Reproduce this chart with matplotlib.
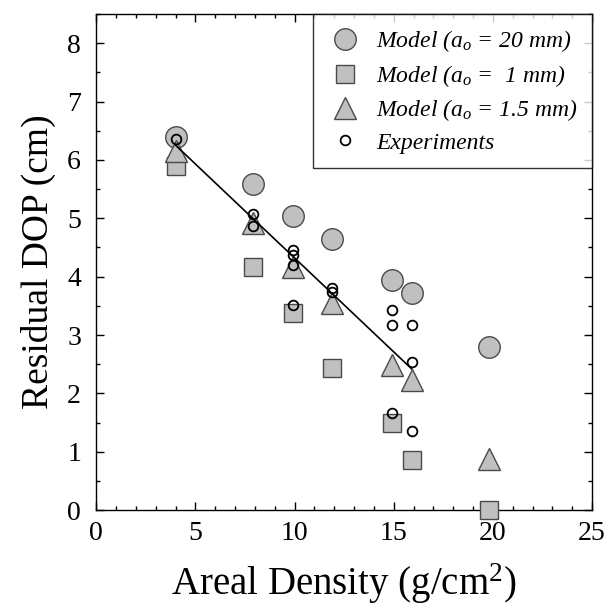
import numpy as np
import matplotlib
matplotlib.use("Agg")
import matplotlib.pyplot as plt
from matplotlib.ticker import MultipleLocator

plt.rcParams["font.family"] = ["Liberation Serif", "DejaVu Serif"]
plt.rcParams["mathtext.fontset"] = "custom"
plt.rcParams["mathtext.rm"] = "Liberation Serif"
plt.rcParams["mathtext.it"] = "Liberation Serif:italic"

# model curves (areal density vs residual DOP)
x_model = [4.0, 7.9, 9.9, 11.9, 14.9, 15.9, 19.8]
dop_20mm = [6.40, 5.59, 5.04, 4.64, 3.95, 3.72, 2.80]
dop_1mm = [5.89, 4.17, 3.38, 2.43, 1.49, 0.85, 0.0]
dop_15mm = [6.15, 4.92, 4.17, 3.55, 2.49, 2.23, 0.87]

# experiments
x_exp = [4.0, 7.9, 7.9, 9.9, 9.9, 9.9, 9.9, 11.9, 11.9,
         14.9, 14.9, 14.9, 15.9, 15.9, 15.9]
dop_exp = [6.35, 5.08, 4.87, 4.45, 4.37, 4.20, 3.52, 3.81, 3.74,
           3.43, 3.18, 1.66, 3.18, 2.54, 1.35]

# linear fit through experiments
x_fit = [4.0, 15.9]
y_fit = [6.25, 2.42]

fig = plt.figure(figsize=(6.06, 6.08), dpi=100)
ax = fig.add_axes([0.159, 0.161, 0.818, 0.816])

gray = "#c0c0c0"
edge = "#4a4a4a"
ax.plot(x_model, dop_20mm, "o", ms=15.5, mfc=gray, mec=edge, mew=1.0,
        label=r"Model ($a_o$ = 20 mm)", clip_on=False, zorder=3)
ax.plot(x_model, dop_1mm, "s", ms=13.5, mfc=gray, mec=edge, mew=1.0,
        label=r"Model ($a_o$ =  1 mm)", clip_on=False, zorder=3)
ax.plot(x_model, dop_15mm, "^", ms=15.5, mfc=gray, mec=edge, mew=1.0,
        label=r"Model ($a_o$ = 1.5 mm)", clip_on=False, zorder=3)
ax.plot(x_exp, dop_exp, "o", ms=7, mfc="none", mec="black", mew=1.3,
        label="Experiments", zorder=4)
ax.plot(x_fit, y_fit, "-", color="black", lw=1.2, zorder=5)

ax.set_xlim(0, 25)
ax.set_ylim(0, 8.5)
ax.xaxis.set_major_locator(MultipleLocator(5))
ax.xaxis.set_minor_locator(MultipleLocator(1))
ax.yaxis.set_major_locator(MultipleLocator(1))
ax.yaxis.set_minor_locator(MultipleLocator(0.5))
ax.tick_params(which="both", direction="in", top=True, right=True,
               labelsize=20, width=1.0)
ax.tick_params(which="major", length=6, pad=8)
ax.tick_params(axis="y", which="major", pad=11)
ax.tick_params(which="minor", length=3)
for s in ax.spines.values():
    s.set_linewidth(1.0)

ax.set_xlabel("Areal Density (g/cm$^2$)", fontsize=28, labelpad=11)
ax.set_ylabel("Residual DOP (cm)", fontsize=27, labelpad=8)

leg = ax.legend(loc="upper right", prop={"style": "italic", "size": 17},
                frameon=True, fancybox=False, borderaxespad=0.0,
                handletextpad=0.6, labelspacing=0.37, borderpad=0.6,
                handlelength=1.5)
leg.get_frame().set_edgecolor("black")
leg.get_frame().set_linewidth(1.0)
leg.set_zorder(10)

fig.savefig("out.png", dpi=100)
